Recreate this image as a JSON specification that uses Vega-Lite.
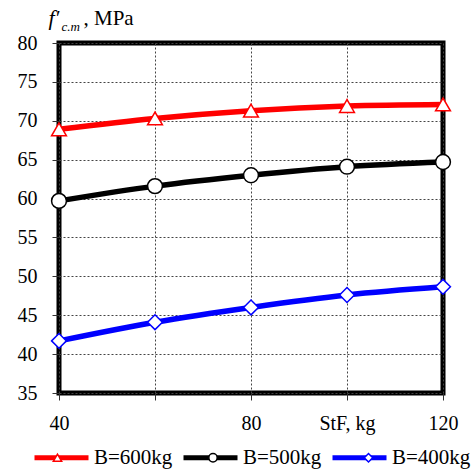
{
  "$schema": "https://vega.github.io/schema/vega-lite/v6.json",
  "width": 384,
  "height": 350,
  "autosize": {"type": "none"},
  "padding": {"left": 59, "top": 43, "right": 32, "bottom": 79},
  "background": "white",
  "config": {
    "font": "Liberation Serif",
    "view": {"stroke": "black", "strokeWidth": 5},
    "axis": {"labelFont": "Liberation Serif", "titleFont": "Liberation Serif", "labelColor": "black", "titleColor": "black"},
    "legend": {"labelFont": "Liberation Serif"}
  },
  "data": {
    "values": [
      {"StF": 40, "series": "B=600kg", "fcm": 68.9},
      {"StF": 60, "series": "B=600kg", "fcm": 70.3},
      {"StF": 80, "series": "B=600kg", "fcm": 71.3},
      {"StF": 100, "series": "B=600kg", "fcm": 71.9},
      {"StF": 120, "series": "B=600kg", "fcm": 72.1},
      {"StF": 40, "series": "B=500kg", "fcm": 59.7},
      {"StF": 60, "series": "B=500kg", "fcm": 61.6},
      {"StF": 80, "series": "B=500kg", "fcm": 63.0},
      {"StF": 100, "series": "B=500kg", "fcm": 64.1},
      {"StF": 120, "series": "B=500kg", "fcm": 64.7},
      {"StF": 40, "series": "B=400kg", "fcm": 41.7},
      {"StF": 60, "series": "B=400kg", "fcm": 44.1},
      {"StF": 80, "series": "B=400kg", "fcm": 46.0},
      {"StF": 100, "series": "B=400kg", "fcm": 47.6},
      {"StF": 120, "series": "B=400kg", "fcm": 48.65}
    ]
  },
  "layer": [
    {
      "mark": {"type": "line", "strokeWidth": 5.5, "interpolate": "monotone"},
      "encoding": {
        "x": {
          "field": "StF", "type": "quantitative",
          "scale": {"domain": [40, 120], "nice": false},
          "axis": {
            "values": [40, 60, 80, 100, 120],
            "labelExpr": "datum.value == 100 ? 'StF, kg' : (datum.value == 60 ? '' : datum.label)",
            "labelFontSize": 20, "labelPadding": 13, "labelFlush": false, "tickSize": 7, "tickColor": "#333",
            "domain": false, "grid": true, "gridColor": "#444", "gridDash": [2, 2], "gridWidth": 1,
            "title": null
          }
        },
        "y": {
          "field": "fcm", "type": "quantitative",
          "scale": {"domain": [35, 80], "nice": false},
          "axis": {
            "values": [35, 40, 45, 50, 55, 60, 65, 70, 75, 80],
            "labelFontSize": 20, "labelPadding": 15, "labelFlush": false, "tickSize": 7, "tickColor": "#333",
            "domain": false, "grid": true, "gridColor": "#444", "gridDash": [2, 2], "gridWidth": 1,
            "title": "f′", "titleFontSize": 22, "titleFontStyle": "italic", "titleFontWeight": "normal",
            "titleAngle": 0, "titleAlign": "left", "titleBaseline": "alphabetic",
            "titleX": -11, "titleY": -18.5
          }
        },
        "color": {
          "field": "series", "type": "nominal",
          "scale": {"domain": ["B=600kg", "B=500kg", "B=400kg"], "range": ["#ff0000", "#000000", "#0000ff"]},
          "legend": {
            "orient": "none", "legendX": -27, "legendY": 385, "direction": "horizontal",
            "title": null, "symbolType": "stroke", "symbolSize": 2916, "symbolStrokeWidth": 5,
            "labelFontSize": 21, "labelColor": "black",
            "labelOffset": 3, "columnPadding": 0
          }
        }
      }
    },
    {
      "mark": {"type": "point", "filled": true, "fill": "white", "strokeWidth": 1.5, "size": 220, "opacity": 1},
      "encoding": {
        "x": {
          "field": "StF", "type": "quantitative",
          "scale": {"domain": [40, 120], "nice": false},
          "axis": {
            "orient": "top", "labels": false, "ticks": false, "domain": false, "grid": false,
            "title": ", MPa", "titleFontSize": 21, "titleFontWeight": "normal",
            "titleAlign": "left", "titleBaseline": "alphabetic", "titleX": 24, "titleY": -18.5
          }
        },
        "y": {
          "field": "fcm", "type": "quantitative",
          "scale": {"domain": [35, 80], "nice": false},
          "axis": {
            "orient": "right", "labels": false, "ticks": false, "domain": false, "grid": false,
            "title": "c.m", "titleFontSize": 13, "titleFontStyle": "italic", "titleFontWeight": "normal",
            "titleAngle": 0, "titleAlign": "left", "titleBaseline": "alphabetic",
            "titleX": -382, "titleY": -13
          }
        },
        "stroke": {
          "field": "series", "type": "nominal",
          "scale": {"domain": ["B=600kg", "B=500kg", "B=400kg"], "range": ["#ff0000", "#000000", "#0000ff"]},
          "legend": {
            "orient": "none", "legendX": -12, "legendY": 404, "direction": "horizontal",
            "title": null, "symbolSize": 70, "symbolStrokeWidth": 1.5, "symbolFillColor": "white",
            "labelFontSize": 21, "labelExpr": "''",
            "labelOffset": 0, "columnPadding": 134.5
          }
        },
        "shape": {
          "field": "series", "type": "nominal",
          "scale": {"domain": ["B=600kg", "B=500kg", "B=400kg"], "range": ["triangle-up", "circle", "diamond"]},
          "legend": {
            "orient": "none", "legendX": -12, "legendY": 404, "direction": "horizontal",
            "title": null, "symbolSize": 70, "symbolStrokeWidth": 1.5, "symbolFillColor": "white",
            "labelFontSize": 21, "labelExpr": "''",
            "labelOffset": 0, "columnPadding": 134.5
          }
        }
      }
    }
  ],
  "resolve": {"axis": {"x": "independent", "y": "independent"}, "legend": {"color": "independent", "shape": "independent", "stroke": "independent"}}
}
